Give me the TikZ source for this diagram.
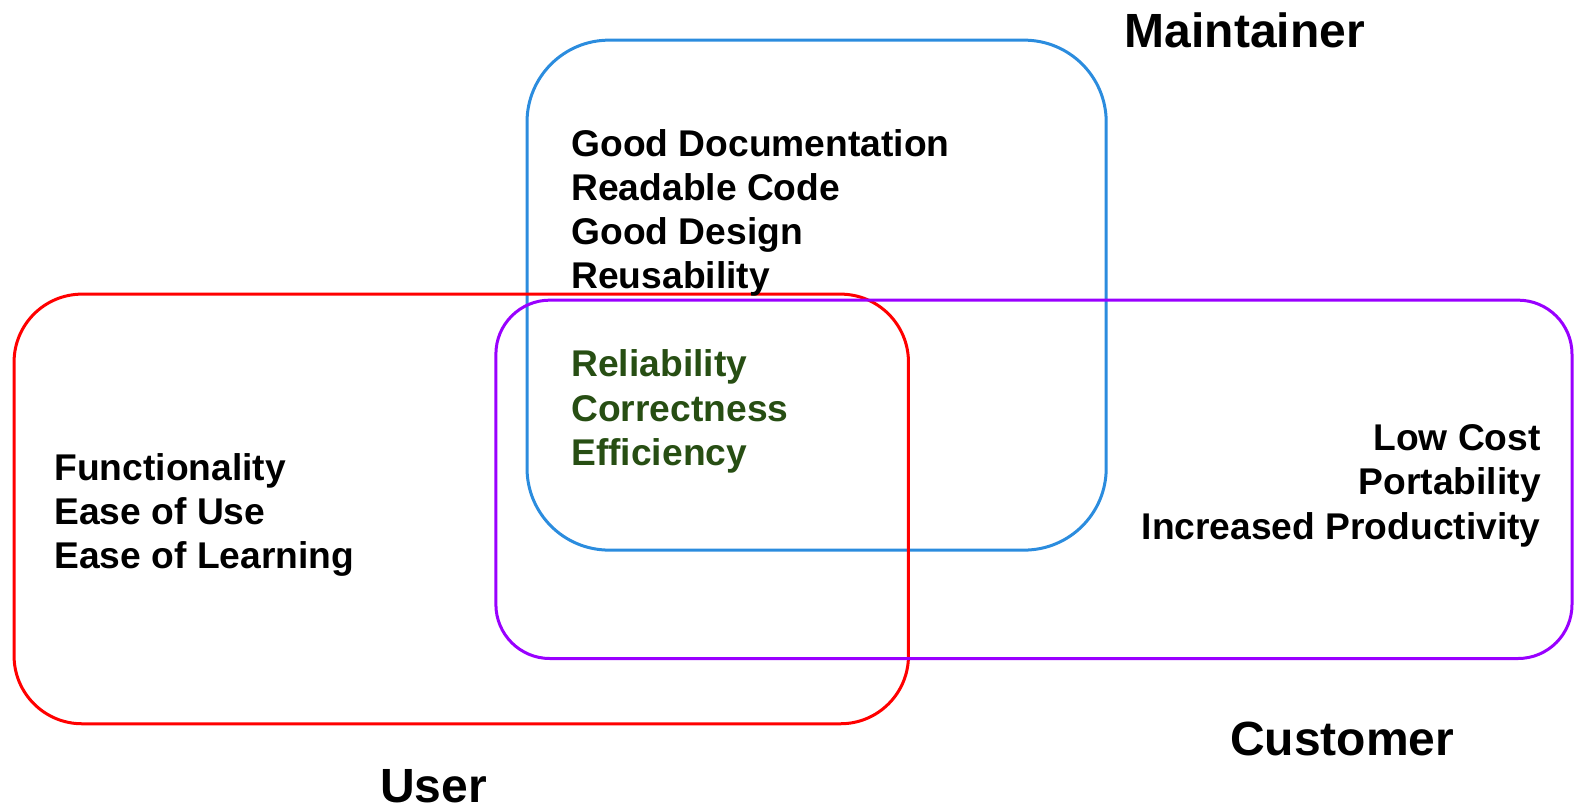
\documentclass[tikz,border=0pt]{standalone}
\usepackage{fontspec}
\setmainfont{Liberation Sans}
\definecolor{mblue}{HTML}{2B8CDE}
\definecolor{ured}{HTML}{FF0000}
\definecolor{cpurple}{HTML}{9900FF}
\definecolor{dgreen}{HTML}{274E13}
\begin{document}
\begin{tikzpicture}[x=1.00383pt,y=-1.00383pt,
  setbox/.style={line width=3pt},
  body/.style={inner sep=0pt,font=\fontsize{37.2}{44.2}\selectfont\bfseries},
  title/.style={inner sep=0pt,font=\fontsize{48}{54}\selectfont\bfseries}]
\useasboundingbox (0,0) rectangle (1568,804);
\draw[setbox,draw=mblue,rounded corners=82pt] (525,40) rectangle (1102,548);
\draw[setbox,draw=ured,rounded corners=68pt] (14,293) rectangle (905,721);
\draw[setbox,draw=cpurple,rounded corners=54pt] (494,299) rectangle (1566,656);
\node[body,anchor=west,align=left] (maint) at (569,212) {Good Documentation\\Readable Code\\Good Design\\Reusability};
\node[body,anchor=west,align=left,text=dgreen] (common) at (569,410) {Reliability\\Correctness\\Efficiency};
\node[body,anchor=west,align=left] (user) at (54,513) {Functionality\\Ease of Use\\Ease of Learning};
\node[body,anchor=east,align=right] (cust) at (1535,484) {Low Cost\\Portability\\Increased Productivity};
\node[title] (lmaint) at (1240,30) {Maintainer};
\node[title] (lcust) at (1337,736) {Customer};
\node[title] (luser) at (432,783) {User};
\end{tikzpicture}
\end{document}
